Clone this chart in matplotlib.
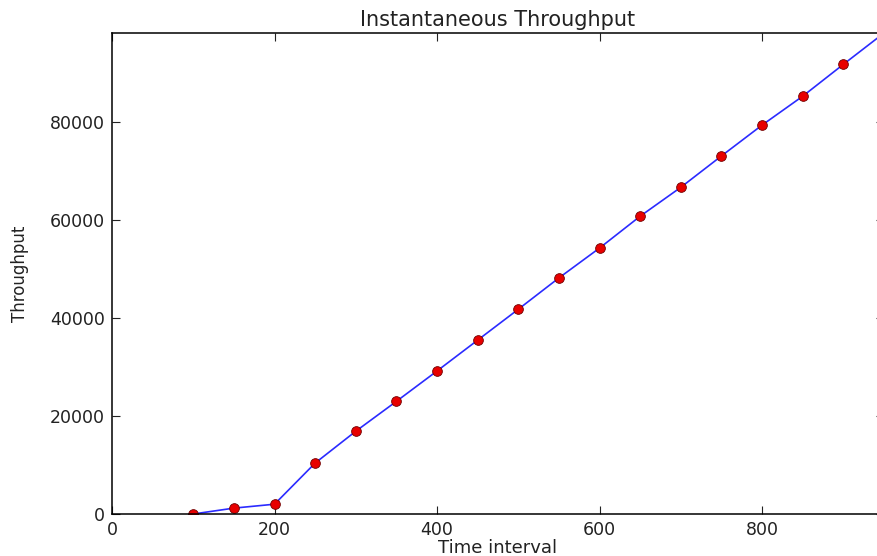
import matplotlib
matplotlib.use("Agg")
import matplotlib.pyplot as plt

# data
time_interval = [100, 150, 200, 250, 300, 350, 400, 450, 500,
                 550, 600, 650, 700, 750, 800, 850, 900, 950]
throughput = [0, 1200, 2000, 10400, 16900, 23000, 29200, 35500, 41800,
              48200, 54300, 60800, 66700, 73100, 79400, 85300, 91800, 98200]

x_ticks = [0, 200, 400, 600, 800]
y_ticks = [0, 20000, 40000, 60000, 80000]

fig = plt.figure(figsize=(8.77, 5.56), dpi=100)
# axes runs slightly past the right edge of the figure, as in the cropped original
ax = fig.add_axes([112 / 877, 42 / 556, 772 / 877, 481 / 556])

ax.plot(time_interval, throughput, color="#2b2bff", linewidth=1.2,
        marker="o", markersize=7, markerfacecolor="#e80000",
        markeredgecolor="#700000", markeredgewidth=0.6)

ax.set_xlim(0, 950)
ax.set_ylim(0, 98200)
ax.set_xticks(x_ticks)
ax.set_yticks(y_ticks)
ax.tick_params(direction="in", length=6, width=0.8, top=True, right=True,
               labelsize=12.5, pad=5, colors="#222222")
for s in ax.spines.values():
    s.set_linewidth(1.1)

ax.set_title("Instantaneous Throughput", fontsize=15, pad=5, color="#222222")
ax.set_xlabel("Time interval", fontsize=13, labelpad=0, color="#222222")
ax.set_ylabel("Throughput", fontsize=12, labelpad=15, color="#222222")

fig.savefig("out.png", dpi=100)
